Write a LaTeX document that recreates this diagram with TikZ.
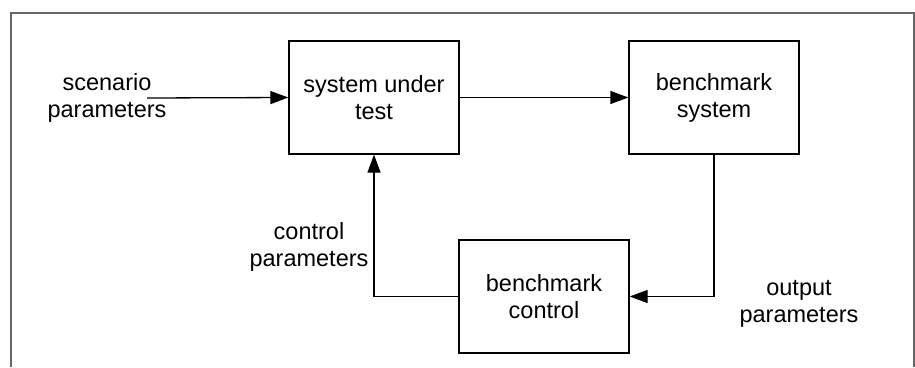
\documentclass[tikz,border=0pt]{standalone}
\usepackage{fontspec}
\setmainfont{Liberation Sans}
\usetikzlibrary{arrows.meta}
\begin{document}
\begin{tikzpicture}[x=1pt,y=-1pt,
  blockbox/.style={draw=black,line width=1.3pt,minimum width=170pt,minimum height=113pt,
    align=center,font=\fontsize{23.5}{27}\selectfont,inner sep=0pt},
  lbl/.style={align=center,font=\fontsize{23.5}{27}\selectfont,inner sep=0pt},
  flow/.style={line width=1.3pt,-{Triangle[length=18pt,width=13pt]}},
  frame/.style={draw=black!60,line width=1.2pt}]
  \useasboundingbox (0,0) rectangle (915,367);
  % open frame: left, top and right sides only
  \draw[frame] (11,367) -- (11,13) -- (914,13) -- (914,367);
  % blocks
  \node[blockbox] (sut) at (374,97.5) {system under\\test};
  \node[blockbox] (bsys) at (714,97.5) {benchmark\\system};
  \node[blockbox] (bctl) at (544,296.5) {benchmark\\control};
  % labels
  \node[lbl] (scen) at (107,98) {scenario\\parameters};
  \node[lbl] (ctlp) at (309,247) {control\\parameters};
  \node[lbl] (outp) at (799,304) {output\\parameters};
  \coordinate (scenend) at (147,98);
  % connectors
  \draw[flow] (scenend) -- (sut.west);
  \draw[flow] (sut.east) -- (bsys.west);
  \draw[flow] (bsys.south) |- (bctl.east);
  \draw[flow] (bctl.west) -| (sut.south);
\end{tikzpicture}
\end{document}
